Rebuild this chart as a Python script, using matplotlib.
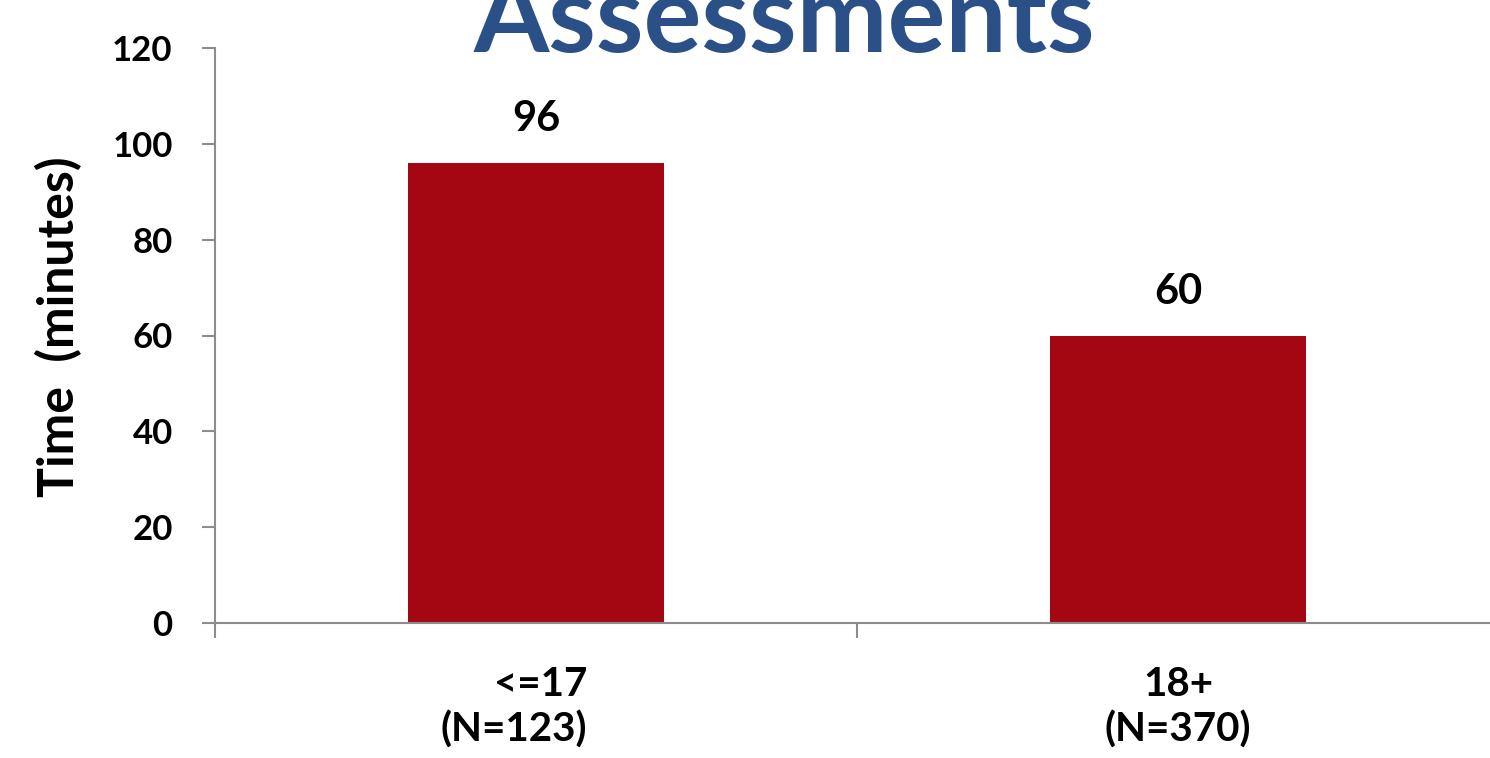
import matplotlib
matplotlib.use("Agg")
import matplotlib.pyplot as plt
import matplotlib.transforms as mtransforms

categories = ["<=17\n(N=123)", "18+\n(N=370)"]
values = [96, 60]
yticks = [0, 20, 40, 60, 80, 100, 120]
title = "Assessments"
ylabel = "Time  (minutes)"

plt.rcParams['font.family'] = ['Lato', 'DejaVu Sans']
plt.rcParams['font.weight'] = 'bold'

fig = plt.figure(figsize=(14.90, 7.58), dpi=100)
ax = fig.add_axes([215/1490, 135/758, 1284/1490, 575/758])

bar_color = '#A50712'
axis_color = '#8C8C8C'

x = list(range(len(values)))
ax.bar(x, values, width=0.4, color=bar_color, zorder=2)

for xi, v in zip(x, values):
    ax.annotate(str(v), (xi, v), xytext=(0, 18), textcoords='offset points',
                ha='center', va='bottom', fontsize=30, fontweight='bold', color='black')

ax.set_xlim(-0.5, 1.5)
ax.set_ylim(0, 120)
ax.set_yticks(yticks)
ax.set_yticklabels([str(t) for t in yticks], fontsize=25, fontweight='bold')

ax.set_xticks(x)
ax.set_xticklabels(categories, fontsize=29, fontweight='bold', linespacing=1.25)
ax.set_xticks([-0.5, 0.5, 1.5], minor=True)
ax.tick_params(axis='x', which='major', length=0, pad=31)
ax.tick_params(axis='x', which='minor', length=11, width=1.5, color=axis_color)
ax.tick_params(axis='y', length=9.5, width=1.5, color=axis_color, pad=21)

# first label right-aligned lines, block shifted left
lbl0 = ax.get_xticklabels()[0]
lbl0.set_multialignment('right')
lbl0.set_transform(lbl0.get_transform() + mtransforms.ScaledTranslation(-0.22, 0, fig.dpi_scale_trans))

for s in ['top', 'right']:
    ax.spines[s].set_visible(False)
for s in ['left', 'bottom']:
    ax.spines[s].set_color(axis_color)
    ax.spines[s].set_linewidth(1.5)

ax.set_ylabel(ylabel, fontsize=36, fontweight='bold')
ax.yaxis.set_label_coords((82 - 215) / 1284, (623 - 326.5) / 575)

fig.text(784/1490, 1 - 52/758, title, ha='center', va='baseline',
         fontsize=78, fontweight='bold', color='#2B5088')

fig.savefig('out.png', dpi=100)
